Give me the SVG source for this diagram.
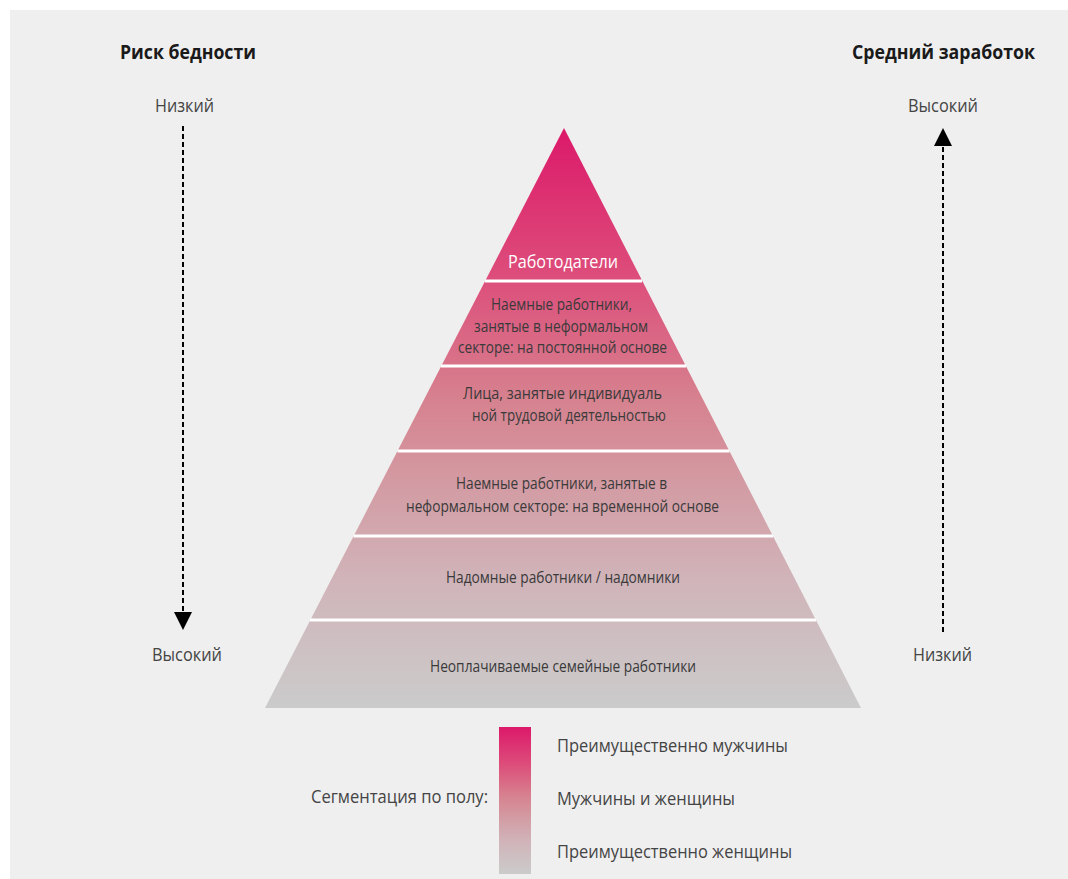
<svg xmlns="http://www.w3.org/2000/svg" width="1068" height="879" viewBox="0 0 1068 879">
  <defs>
    <linearGradient id="pyr" gradientUnits="userSpaceOnUse" x1="0" y1="128" x2="0" y2="708">
      <stop offset="0" stop-color="#dc196a"/>
      <stop offset="0.25" stop-color="#dd4c7a"/>
      <stop offset="0.47" stop-color="#d6828f"/>
      <stop offset="0.62" stop-color="#d39ca4"/>
      <stop offset="0.78" stop-color="#d0b4b9"/>
      <stop offset="1" stop-color="#cbcbcb"/>
    </linearGradient>
    <linearGradient id="leg" x1="0" y1="0" x2="0" y2="1">
      <stop offset="0" stop-color="#dc196a"/>
      <stop offset="0.25" stop-color="#dd4c7a"/>
      <stop offset="0.47" stop-color="#d6828f"/>
      <stop offset="0.62" stop-color="#d39ca4"/>
      <stop offset="0.78" stop-color="#d0b4b9"/>
      <stop offset="1" stop-color="#cbcbcb"/>
    </linearGradient>
    <marker id="arr" viewBox="0 0 10 10" refX="10" refY="5" markerWidth="18" markerHeight="19" markerUnits="userSpaceOnUse" orient="auto">
      <path d="M0,0 L10,5 L0,10 Z" fill="#000"/>
    </marker>
    <style>
      .t { font-family: "Open Sans", "Liberation Sans", sans-serif; }
      .head { font-size: 20px; font-weight: bold; fill: #1a1a1a; }
      .lab { font-size: 18px; fill: #444; }
      .band { font-size: 16px; fill: #3a3a3a; }
      .sep { stroke: #fff; stroke-width: 3; }
      .dash { stroke: #000; stroke-width: 2; stroke-dasharray: 5 3; fill: none; }
    </style>
  </defs>
  <rect x="10" y="10" width="1058" height="869" fill="#efefef"/>

  <g id="headers" class="t">
    <text class="head" x="120" y="59" textLength="136" lengthAdjust="spacingAndGlyphs">Риск бедности</text>
    <text class="head" x="852" y="59" textLength="183" lengthAdjust="spacingAndGlyphs">Средний заработок</text>
    <text class="lab" x="155" y="112" textLength="59" lengthAdjust="spacingAndGlyphs">Низкий</text>
    <text class="lab" x="152" y="661" textLength="70" lengthAdjust="spacingAndGlyphs">Высокий</text>
    <text class="lab" x="908" y="112" textLength="70" lengthAdjust="spacingAndGlyphs">Высокий</text>
    <text class="lab" x="913" y="661" textLength="59" lengthAdjust="spacingAndGlyphs">Низкий</text>
  </g>

  <g id="connectors">
    <line class="dash" x1="183" y1="126" x2="183" y2="630" marker-end="url(#arr)"/>
    <line class="dash" x1="943" y1="632" x2="943" y2="128" marker-end="url(#arr)"/>
  </g>

  <g id="pyramid">
    <polygon points="564,128 861,708 265,708" fill="url(#pyr)"/>
    <line class="sep" x1="485" y1="281" x2="642" y2="281"/>
    <line class="sep" x1="441" y1="366" x2="686" y2="366"/>
    <line class="sep" x1="397.5" y1="451" x2="729.5" y2="451"/>
    <line class="sep" x1="353.5" y1="536" x2="773" y2="536"/>
    <line class="sep" x1="310" y1="620" x2="816" y2="620"/>
  </g>

  <g id="band1" class="t">
    <text x="508" y="268" font-size="18" fill="#fff" textLength="110" lengthAdjust="spacingAndGlyphs">Работодатели</text>
  </g>
  <g id="band2" class="t band">
    <text x="491" y="310" textLength="141" lengthAdjust="spacingAndGlyphs">Наемные работники,</text>
    <text x="474" y="332" textLength="174" lengthAdjust="spacingAndGlyphs">занятые в неформальном</text>
    <text x="458" y="353" textLength="209" lengthAdjust="spacingAndGlyphs">секторе: на постоянной основе</text>
  </g>
  <g id="band3" class="t band">
    <text x="463" y="399" textLength="199" lengthAdjust="spacingAndGlyphs">Лица, занятые индивидуаль</text>
    <text x="472" y="421" textLength="194" lengthAdjust="spacingAndGlyphs">ной трудовой деятельностью</text>
  </g>
  <g id="band4" class="t band">
    <text x="456" y="489" textLength="211" lengthAdjust="spacingAndGlyphs">Наемные работники, занятые в</text>
    <text x="406" y="512" textLength="313" lengthAdjust="spacingAndGlyphs">неформальном секторе: на временной основе</text>
  </g>
  <g id="band5" class="t band">
    <text x="446" y="583" textLength="234" lengthAdjust="spacingAndGlyphs">Надомные работники / надомники</text>
  </g>
  <g id="band6" class="t band">
    <text x="430" y="672" textLength="266" lengthAdjust="spacingAndGlyphs">Неоплачиваемые семейные работники</text>
  </g>

  <g id="legend" class="t">
    <text class="lab" x="311" y="803" textLength="177" lengthAdjust="spacingAndGlyphs">Сегментация по полу:</text>
    <rect x="499" y="727" width="32" height="147" fill="url(#leg)"/>
    <text class="lab" x="557" y="752" textLength="231" lengthAdjust="spacingAndGlyphs">Преимущественно мужчины</text>
    <text class="lab" x="557" y="805" textLength="178" lengthAdjust="spacingAndGlyphs">Мужчины и женщины</text>
    <text class="lab" x="557" y="858" textLength="235" lengthAdjust="spacingAndGlyphs">Преимущественно женщины</text>
  </g>
</svg>
